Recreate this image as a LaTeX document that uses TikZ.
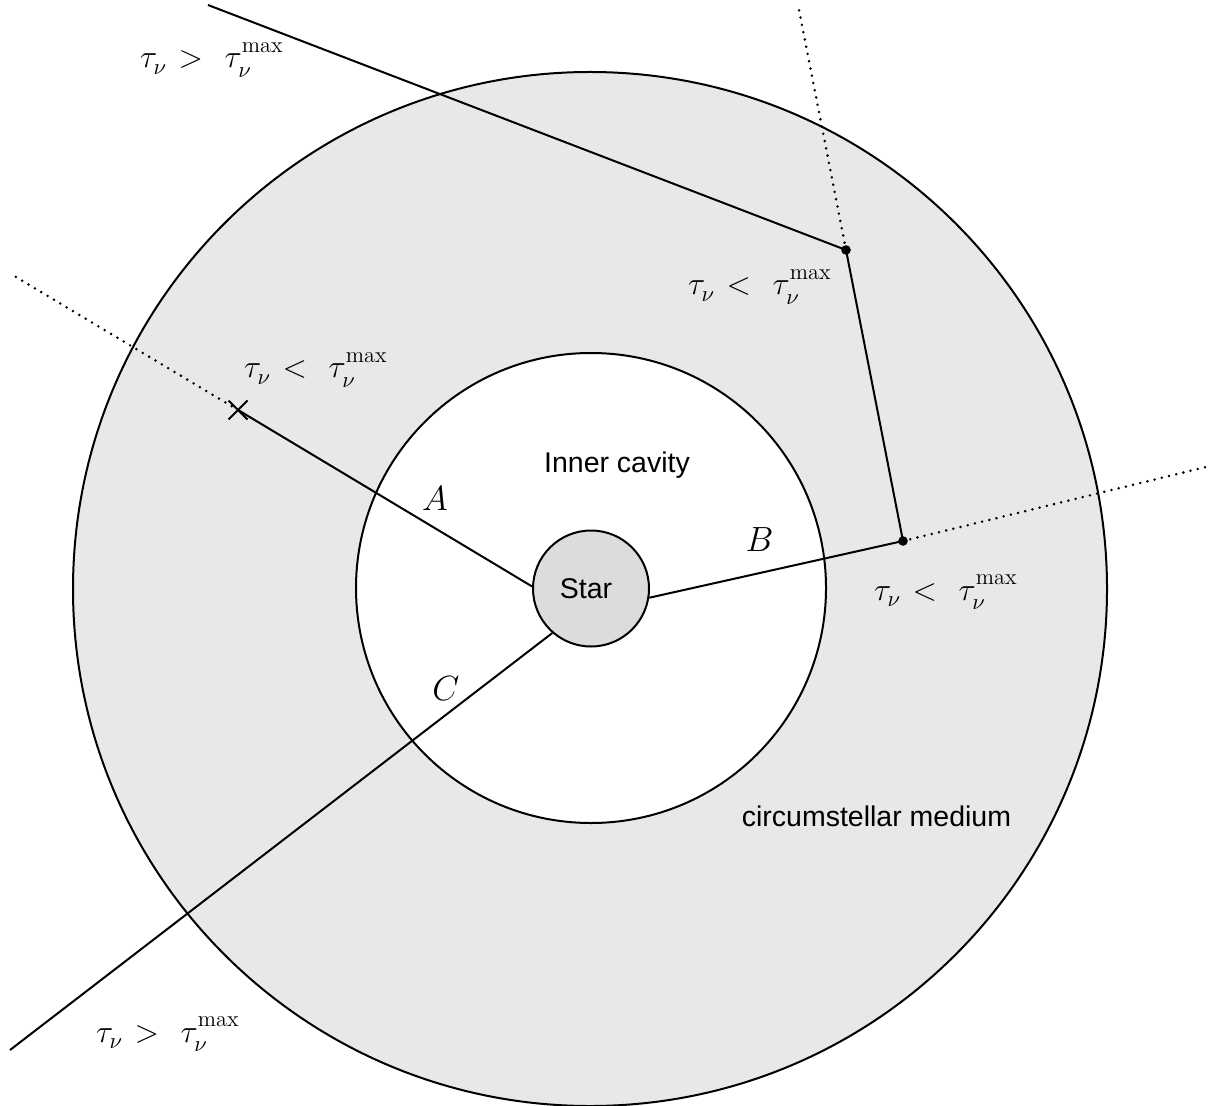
\RequirePackage{fix-cm}
\documentclass[tikz,border=0pt]{standalone}
\usepackage{fontspec}
\usetikzlibrary{shapes.misc}
\newfontfamily\arialf{Liberation Sans}
\definecolor{medfill}{RGB}{232,232,232}
\definecolor{starfill}{RGB}{220,220,220}
\newcommand{\subnu}{\raisebox{-1pt}{$\scriptstyle\nu$}}
\newcommand{\supmax}{\raisebox{2pt}{$\scriptstyle\mathrm{max}$}}
\newcommand{\taurel}[1]{$\tau_{\subnu}\mkern1.5mu #1\hspace{0.4em}\tau_{\subnu}^{\supmax}$}
\begin{document}
\begin{tikzpicture}[x=0.5pt,y=-0.5pt,line width=1pt,
  ring/.style={circle,draw,line width=1pt,inner sep=0pt},
  ray/.style={line width=1pt},
  dotray/.style={line width=1.4pt,line cap=round,dash pattern=on 0pt off 3.7pt},
  bendpt/.style={circle,fill=black,inner sep=0pt,minimum size=4.8pt},
  crossmark/.style={cross out,draw,line width=1pt,inner sep=0pt,minimum size=8.5pt},
  sanslab/.style={font=\arialf\fontsize{14.25}{17}\selectfont,inner sep=0pt},
  mathlab/.style={font=\fontsize{17.5}{21}\selectfont,inner sep=0pt},
  taulab/.style={font=\fontsize{16}{19}\selectfont,inner sep=0pt,anchor=base west}]
\useasboundingbox (0,0) rectangle (1213,1106);
% regions
\node[ring,fill=medfill,minimum size=517pt] (medium) at (590,589) {};
\node[ring,fill=white,minimum size=235pt] (cavity) at (591,588) {};
% points
\node[crossmark] (xA) at (238,410) {};
\node[bendpt] (pB) at (903,541) {};
\node[bendpt] (pT) at (846,250) {};
\coordinate (farA) at (11,274);
\coordinate (farB) at (1210,466);
\coordinate (farT) at (799,10);
\coordinate (farTL) at (208,5);
\coordinate (farC) at (10,1050);
% star
\node[ring,fill=starfill,minimum size=58pt,font=\arialf\fontsize{14.25}{17}\selectfont] (star) at (591,588.5) {Star\hspace*{5pt}};
% rays
\draw[dotray] (xA.center) -- (farA);
\draw[ray] (xA.center) -- (star.178.5);
\draw[ray] (star.-9.4) -- (pB.center);
\draw[dotray] (pB.center) -- (farB);
\draw[ray] (pB.center) -- (pT.center);
\draw[dotray] (pT.center) -- (farT);
\draw[ray] (pT.center) -- (farTL);
\draw[ray] (star.229.5) -- (farC);
% labels
\node[mathlab] (lA) at (435,499) {$A$};
\node[mathlab] (lB) at (759.5,540) {$B$};
\node[mathlab] (lC) at (446,689) {$C$};
\node[sanslab,anchor=base] (lcav) at (617,472) {Inner cavity};
\node[sanslab,anchor=base] (lmed) at (876.5,826) {circumstellar medium};
\node[taulab] (t1) at (139,68) {\taurel{>}};
\node[taulab] (t2) at (687,295) {\taurel{<}};
\node[taulab] (t3) at (243,378) {\taurel{<}};
\node[taulab] (t4) at (873,600) {\taurel{<}};
\node[taulab] (t5) at (95,1042) {\taurel{>}};
\end{tikzpicture}
\end{document}
